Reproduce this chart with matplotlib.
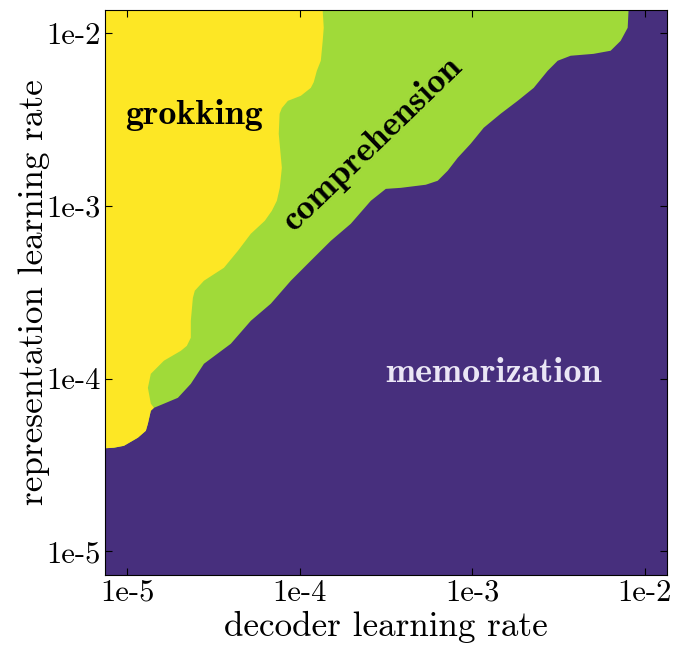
import matplotlib
matplotlib.use("Agg")
import matplotlib.pyplot as plt
import numpy as np

# phase boundaries, as log10 of the learning rates
# comprehension / memorization edge: representation lr -> decoder lr
gm_rep = [-1.865, -1.965, -2.041, -2.098, -2.116, -2.127, -2.156, -2.214, -2.313,
          -2.388, -2.463, -2.544, -2.637, -2.718, -2.793, -2.851, -2.874, -2.892,
          -2.898, -2.967, -3.100, -3.199, -3.314, -3.430, -3.563, -3.662, -3.795,
          -3.911, -4.027, -4.108, -4.142, -4.166, -4.183, -4.258, -4.299, -4.339,
          -4.386, -4.397, -4.400]
gm_dec = [-2.096, -2.101, -2.142, -2.200, -2.299, -2.432, -2.507, -2.565, -2.646,
          -2.739, -2.838, -2.936, -3.012, -3.087, -3.145, -3.203, -3.272, -3.417,
          -3.504, -3.591, -3.707, -3.823, -3.939, -4.055, -4.171, -4.287, -4.403,
          -4.559, -4.635, -4.710, -4.791, -4.849, -4.867, -4.884, -4.896, -4.942,
          -5.023, -5.081, -5.130]

# grokking / comprehension edge (joins the one above at the bottom)
yg_rep = [-1.865, -1.965, -2.041, -2.156, -2.214, -2.280, -2.313, -2.359, -2.388,
          -2.430, -2.463, -2.579, -2.776, -2.892, -2.967, -3.025, -3.083, -3.158,
          -3.257, -3.355, -3.430, -3.488, -3.529, -3.662, -3.760, -3.807, -3.836,
          -3.893, -3.969, -4.050, -4.142, -4.166, -4.183, -4.258, -4.299, -4.339,
          -4.386, -4.397, -4.400]
yg_dec = [-3.870, -3.864, -3.870, -3.881, -3.904, -3.922, -3.939, -3.997, -4.072,
          -4.107, -4.120, -4.125, -4.107, -4.119, -4.136, -4.165, -4.206, -4.287,
          -4.362, -4.443, -4.559, -4.612, -4.623, -4.635, -4.635, -4.658, -4.693,
          -4.791, -4.867, -4.884, -4.867, -4.849, -4.867, -4.884, -4.896, -4.942,
          -5.023, -5.081, -5.130]

ticks = [1e-5, 1e-4, 1e-3, 1e-2]
tick_labels = ["1e-5", "1e-4", "1e-3", "1e-2"]

c_mem = "#472f7d"
c_comp = "#a0da39"
c_grok = "#fde725"

plt.rcParams["font.family"] = "cmr10"
plt.rcParams["axes.unicode_minus"] = False

fig = plt.figure(figsize=(6.76, 6.5), dpi=100)
ax = fig.add_axes([0.1553, 0.1154, 0.8314, 0.8692])

xmin, xmax = 10 ** -5.13, 10 ** -1.87
ymin, ymax = 10 ** -5.137, 10 ** -1.865

ax.set_xscale("log")
ax.set_yscale("log")
ax.set_facecolor(c_mem)
ax.fill_betweenx(10 ** np.array(gm_rep), xmin, 10 ** np.array(gm_dec),
                 color=c_comp, lw=0)
ax.fill_betweenx(10 ** np.array(yg_rep), xmin, 10 ** np.array(yg_dec),
                 color=c_grok, lw=0)

ax.set_xlim(xmin, xmax)
ax.set_ylim(ymin, ymax)

ax.set_xticks(ticks)
ax.set_xticklabels(tick_labels)
ax.set_yticks(ticks)
ax.set_yticklabels(tick_labels)
ax.minorticks_off()
ax.tick_params(direction="in", top=True, right=True, length=5, labelsize=22, pad=3)

ax.set_xlabel("decoder learning rate", fontsize=25.3, labelpad=3)
ax.set_ylabel("representation learning rate", fontsize=25.3)
ax.yaxis.set_label_coords(-0.097, 0.5)

ax.text(10 ** -4.612, 10 ** -2.475, "grokking", family="cmb10", fontsize=26,
        ha="center", va="center", color="black")
ax.text(10 ** -3.58, 10 ** -2.637, "comprehension", family="cmb10", fontsize=26,
        ha="center", va="center", rotation=44, color="black")
ax.text(10 ** -2.878, 10 ** -3.969, "memorization", family="cmb10", fontsize=26,
        ha="center", va="center", color="#eae6f5")

fig.savefig("out.png", dpi=100)
